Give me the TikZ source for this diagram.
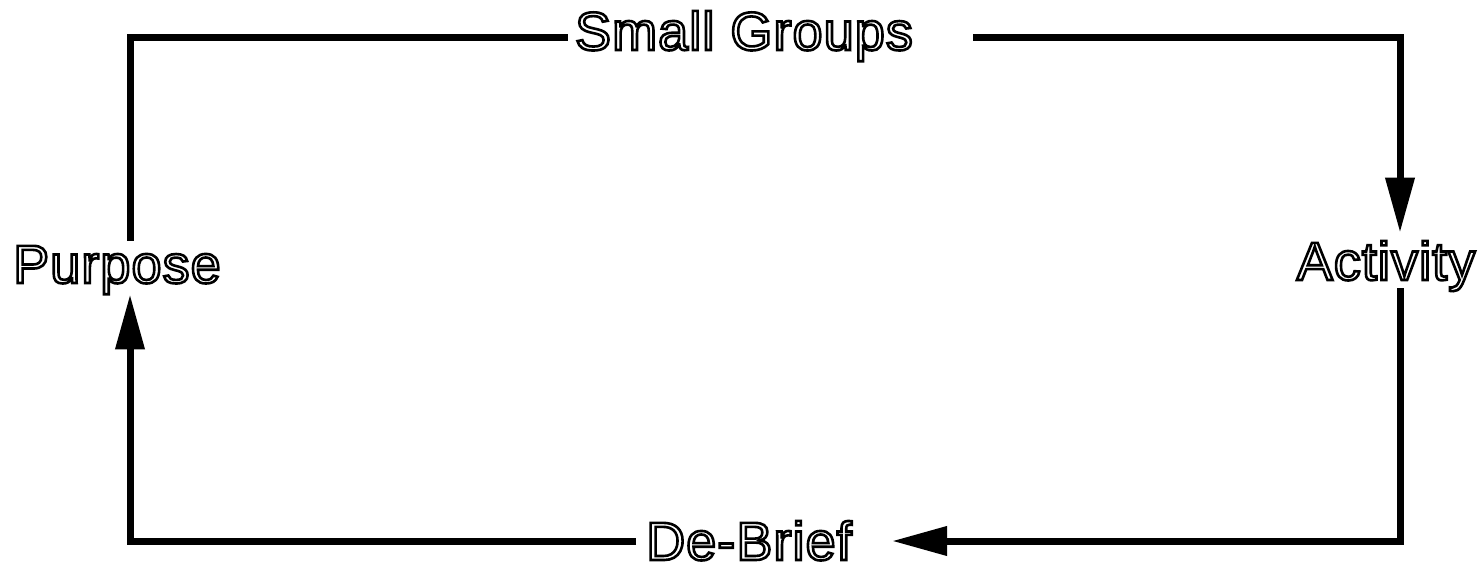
\documentclass[tikz,border=0pt]{standalone}
\usepackage{fontspec}
\setmainfont[LetterSpace=2.0]{Liberation Sans}
\usetikzlibrary{arrows.meta}
\newcommand{\otext}[1]{\special{pdf:literal direct 1 Tr 2.6 w}#1\special{pdf:literal direct 0 Tr}}
\tikzset{
  lbl/.style={font=\fontsize{54}{60}\selectfont, inner sep=0pt, anchor=base},
  conn/.style={line width=7pt, line join=miter},
  arr/.style={conn, -{Triangle[length=55pt,width=28pt]}}
}
\begin{document}
\begin{tikzpicture}[x=1pt,y=-1pt]
\useasboundingbox (0,0) rectangle (1484,569);
\node[lbl] (sg)  at (744,50)  {\otext{Small Groups}};
\node[lbl] (act) at (1386,280) {\otext{Activity}};
\node[lbl] (pur) at (117,283) {\otext{Purpose}};
\node[lbl] (db)  at (749,560) {\otext{De-Brief}};
\coordinate (tl) at (130,38);
\coordinate (tr) at (1400,38);
\coordinate (br) at (1400,541);
\coordinate (bl) at (130,541);
\draw[conn] ([xshift=-7pt]sg.west |- tl) -- (tl) -- ([yshift=5pt]pur.north -| tl);
\draw[arr] ([xshift=60pt]sg.east |- tr) -- (tr) -- ([yshift=8pt]act.north -| tr);
\draw[arr] ([yshift=3pt]act.south -| br) -- (br) -- ([xshift=40pt]db.east |- br);
\draw[arr] ([xshift=-10pt]db.west |- bl) -- (bl) -- (pur.south -| bl);
\end{tikzpicture}
\end{document}
